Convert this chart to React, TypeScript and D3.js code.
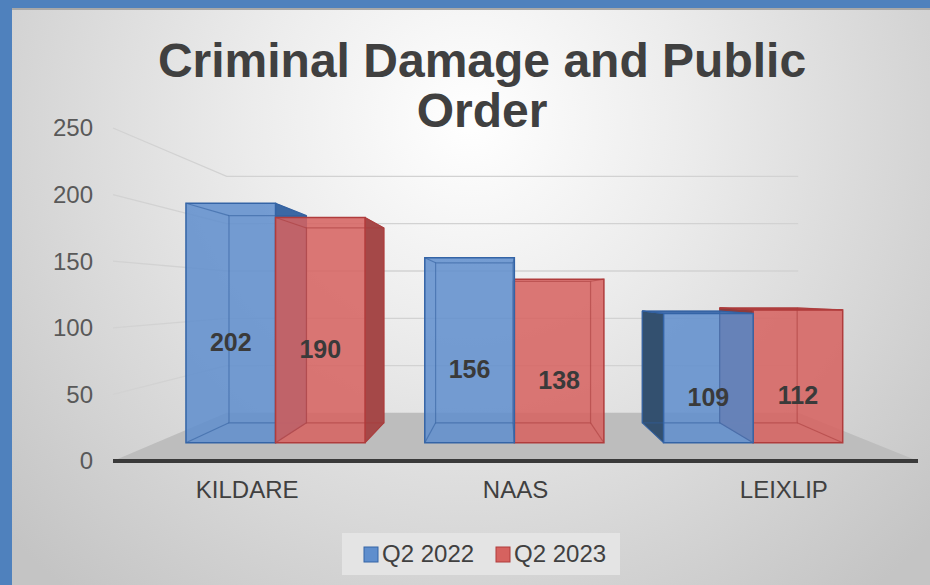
import * as d3 from 'd3';

// chart data
const categories = ['KILDARE', 'NAAS', 'LEIXLIP'];
const seriesNames = ['Q2 2022', 'Q2 2023'];
const q2_2022 = [202, 156, 109];
const q2_2023 = [190, 138, 112];
const yTicks = [0, 50, 100, 150, 200, 250];

const W = 930;
const H = 585;

// perspective: vanishing point and depth scale factors
const VP = { x: 505, y: 295 };
const F_FRONT = 0.89;
const F_BACK = 0.77;
const F_WALL = 0.71;

const PLOT_L = 113;
const PLOT_R = 918;

const x = d3.scaleBand<string>().domain(categories).range([PLOT_L, PLOT_R]).paddingInner(0.25).paddingOuter(0.125);
const xs = d3.scaleBand<string>().domain(seriesNames).range([0, x.bandwidth()]);
const y = d3.scaleLinear().domain([0, 250]).range([461, 128]);

const proj = (X: number, Y: number, f: number): [number, number] => [VP.x + (X - VP.x) * f, VP.y + (Y - VP.y) * f];
const line = d3.line();
const poly = (pts: [number, number][]) => line(pts) + 'Z';

const palette: Record<string, any> = {
  'Q2 2022': { front: '#5f8ecd', stroke: '#3464a6', sideL: '#33506f', sideR: '#3b68a4', top: '#4772b0', edge: '#2f5d9c' },
  'Q2 2023': { front: '#d6625f', stroke: '#b03c3c', sideL: '#8e3b3b', sideR: '#a54848', top: '#b54242', edge: '#a83a3a' },
};

const seriesValues: Record<string, number[]> = { 'Q2 2022': q2_2022, 'Q2 2023': q2_2023 };

type Bar = { cat: string; s: string; v: number; X0: number; X1: number };

const bars: Bar[] = [];
categories.forEach((c, i) => {
  seriesNames.forEach((s) => {
    const X0 = (x(c) ?? 0) + (xs(s) ?? 0);
    bars.push({ cat: c, s, v: seriesValues[s][i], X0, X1: X0 + xs.bandwidth() });
  });
});
// paint bars farthest from the vanishing point first
const ordered = [...bars].sort(
  (a, b) => Math.abs((b.X0 + b.X1) / 2 - VP.x) - Math.abs((a.X0 + a.X1) / 2 - VP.x)
);

function Box({ b }: { b: Bar }) {
  const col = palette[b.s];
  const Yt = y(b.v);
  const Yb = y(0);
  const Af = proj(b.X0, Yt, F_FRONT), Bf = proj(b.X1, Yt, F_FRONT), Cf = proj(b.X1, Yb, F_FRONT), Df = proj(b.X0, Yb, F_FRONT);
  const Ab = proj(b.X0, Yt, F_BACK), Bb = proj(b.X1, Yt, F_BACK), Cb = proj(b.X1, Yb, F_BACK), Db = proj(b.X0, Yb, F_BACK);
  return (
    <g>
      {b.X1 < VP.x && <path d={poly([Bf, Bb, Cb, Cf])} fill={col.sideR} stroke={col.stroke} strokeWidth={1} />}
      {b.X0 > VP.x && <path d={poly([Af, Ab, Db, Df])} fill={col.sideL} stroke={col.stroke} strokeWidth={1} />}
      {Yt > VP.y && <path d={poly([Af, Bf, Bb, Ab])} fill={col.top} stroke={col.stroke} strokeWidth={1} />}
      <path d={poly([Af, Bf, Cf, Df])} fill={col.front} fillOpacity={0.86} />
      <g stroke={col.edge} strokeOpacity={0.55} strokeWidth={1.2} fill="none">
        <path d={poly([Ab, Bb, Cb, Db])} />
        <path d={line([Af, Ab])!} />
        <path d={line([Bf, Bb])!} />
        <path d={line([Cf, Cb])!} />
        <path d={line([Df, Db])!} />
      </g>
      <path d={poly([Af, Bf, Cf, Df])} fill="none" stroke={col.stroke} strokeWidth={1.5} />
    </g>
  );
}

export default function App() {
  const font = '"Liberation Sans", Arial, sans-serif';
  const y0 = y(0);
  return (
    <svg width={W} height={H} style={{ position: 'absolute', left: 0, top: 0 }} fontFamily={font}>
      <defs>
        <radialGradient id="bg" gradientUnits="userSpaceOnUse" cx={470} cy={120} r={620}>
          <stop offset="0" stopColor="#ffffff" />
          <stop offset="0.35" stopColor="#ececec" />
          <stop offset="1" stopColor="#c4c4c4" />
        </radialGradient>
      </defs>
      <rect x={0} y={0} width={W} height={H} fill="#4f81bd" />
      <rect x={12} y={8} width={W - 12} height={H - 8} fill="url(#bg)" />
      <line x1={12} x2={W} y1={9} y2={9} stroke="#a8a8a8" strokeWidth={2} />

      {/* title */}
      <text x={482} y={77} textAnchor="middle" fontSize={48} fontWeight="bold" fill="#404040">
        Criminal Damage and Public
      </text>
      <text x={482} y={127} textAnchor="middle" fontSize={48} fontWeight="bold" fill="#404040">
        Order
      </text>

      {/* floor */}
      <path
        d={poly([proj(PLOT_L, y0, 1), proj(PLOT_R, y0, 1), proj(PLOT_R, y0, F_WALL), proj(PLOT_L, y0, F_WALL)])}
        fill="#bdbdbd"
      />

      {/* gridlines: side wall + back wall */}
      {yTicks.filter((t) => t > 0).map((t) => (
        <path
          key={t}
          d={line([proj(PLOT_L, y(t), 1), proj(PLOT_L, y(t), F_WALL), proj(PLOT_R, y(t), F_WALL)])!}
          fill="none"
          stroke="#d2d2d2"
          strokeWidth={1.3}
        />
      ))}

      {/* y axis labels */}
      {yTicks.map((t) => (
        <text key={t} x={93} y={y(t)} dy="0.35em" textAnchor="end" fontSize={24} fill="#595959">
          {t}
        </text>
      ))}

      {ordered.map((b) => (
        <Box key={b.cat + b.s} b={b} />
      ))}

      {/* front axis line */}
      <line x1={PLOT_L} x2={PLOT_R} y1={y0} y2={y0} stroke="#3a3a3a" strokeWidth={4} />

      {/* data labels */}
      {bars.map((b) => {
        const top = proj(b.X0, y(b.v), F_FRONT);
        const bot = proj(b.X1, y(0), F_FRONT);
        const cx = (top[0] + bot[0]) / 2;
        const cy = (top[1] + bot[1]) / 2 + 19;
        return (
          <text key={'l' + b.cat + b.s} x={cx} y={cy} dy="0.35em" textAnchor="middle" fontSize={25} fontWeight="bold" fill="#3a3a3a">
            {b.v}
          </text>
        );
      })}

      {/* category labels */}
      {categories.map((c) => (
        <text key={c} x={(x(c) ?? 0) + x.bandwidth() / 2} y={498} textAnchor="middle" fontSize={24} fill="#404040">
          {c}
        </text>
      ))}

      {/* legend */}
      <rect x={342} y={533} width={278} height={42} fill="#e4e4e4" />
      {seriesNames.map((s, i) => {
        const lx = 364 + i * 132;
        return (
          <g key={s}>
            <rect x={lx} y={547} width={14} height={15} fill={palette[s].front} stroke={palette[s].stroke} strokeWidth={1} />
            <text x={lx + 18} y={562} fontSize={24} fill="#404040">
              {s}
            </text>
          </g>
        );
      })}
    </svg>
  );
}
